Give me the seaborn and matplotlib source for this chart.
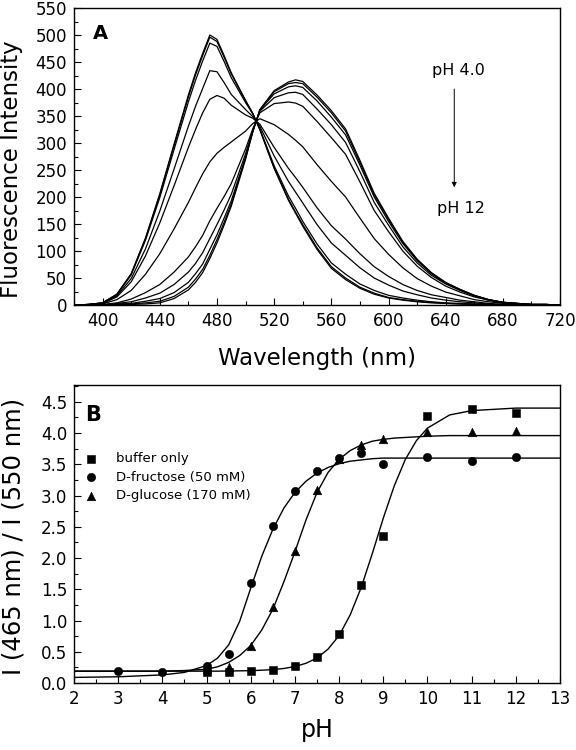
import numpy as np
import pandas as pd
import matplotlib
matplotlib.use("Agg")
import matplotlib.pyplot as plt
import seaborn as sns
from matplotlib.ticker import MultipleLocator

# ---- panel A: fluorescence spectra (pH 4.0 -> pH 12) ----
wavelength = [380, 390, 400, 410, 420, 430, 440, 450, 460, 465, 470, 475, 480, 485, 490,
              500, 505, 510, 520, 530, 535, 540, 550, 560, 570, 580, 590, 600, 610, 620,
              630, 640, 650, 660, 670, 680, 690, 700, 710, 720]

spec_01 = [0, 1, 4, 20, 58, 124, 206, 298, 389, 430, 466, 500, 492, 462, 430,
           379, 355, 325, 253, 194, 170, 146, 103, 68, 47, 31, 20, 13, 9, 6,
           4, 3, 2, 1, 1, 0, 0, 0, 0, 0]
spec_02 = [0, 1, 4, 20, 57, 123, 204, 295, 385, 426, 462, 496, 488, 459, 428,
           378, 355, 325, 254, 196, 172, 149, 106, 71, 50, 33, 22, 14, 10, 7,
           5, 3, 2, 1, 1, 0, 0, 0, 0, 0]
spec_03 = [0, 1, 4, 19, 56, 120, 199, 288, 376, 416, 452, 485, 479, 451, 421,
           375, 354, 326, 258, 202, 179, 155, 113, 78, 57, 39, 27, 18, 13, 9,
           6, 4, 3, 2, 1, 0, 0, 0, 0, 0]
spec_04 = [0, 1, 3, 17, 49, 104, 174, 252, 331, 368, 401, 434, 432, 412, 390,
           362, 349, 331, 276, 229, 209, 189, 149, 115, 92, 69, 50, 37, 26, 19,
           13, 9, 6, 4, 2, 1, 0, 0, 0, 0]
spec_05 = [0, 1, 3, 15, 43, 91, 152, 221, 292, 325, 356, 381, 388, 383, 370,
           352, 346, 335, 292, 253, 236, 218, 180, 147, 122, 95, 71, 53, 38, 27,
           19, 14, 9, 6, 3, 1, 1, 0, 0, 0]
spec_06 = [0, 0, 2, 10, 27, 57, 95, 141, 190, 217, 243, 265, 281, 292, 302,
           322, 336, 345, 334, 316, 305, 293, 260, 229, 200, 161, 123, 94, 69, 49,
           35, 24, 17, 10, 6, 3, 2, 1, 1, 0]
spec_07 = [0, 0, 1, 4, 11, 23, 38, 61, 89, 108, 129, 156, 179, 201, 225,
           289, 326, 356, 373, 376, 374, 368, 340, 310, 279, 228, 175, 136, 100, 72,
           51, 35, 24, 15, 9, 4, 2, 1, 1, 0]
spec_08 = [0, 0, 0, 3, 6, 13, 22, 38, 61, 77, 97, 123, 149, 176, 205,
           280, 323, 359, 384, 393, 394, 390, 363, 334, 301, 247, 190, 148, 108, 78,
           55, 39, 27, 17, 9, 5, 3, 1, 1, 0]
spec_09 = [0, 0, 0, 2, 3, 7, 12, 23, 42, 58, 76, 103, 130, 161, 193,
           274, 321, 361, 391, 404, 406, 403, 378, 348, 315, 259, 200, 155, 114, 82,
           58, 40, 28, 17, 10, 5, 3, 1, 1, 0]
spec_10 = [0, 0, 0, 1, 2, 4, 7, 16, 33, 48, 66, 92, 121, 153, 187,
           272, 321, 361, 395, 410, 412, 410, 385, 356, 322, 264, 204, 159, 116, 84,
           59, 41, 29, 18, 10, 5, 3, 1, 1, 0]
spec_11 = [0, 0, 0, 1, 1, 2, 4, 12, 28, 42, 60, 86, 115, 148, 183,
           270, 320, 362, 397, 413, 417, 414, 389, 360, 326, 268, 207, 161, 118, 85,
           60, 42, 29, 18, 10, 5, 3, 1, 1, 0]
spectra = [spec_01, spec_02, spec_03, spec_04, spec_05, spec_06,
           spec_07, spec_08, spec_09, spec_10, spec_11]

# ---- panel B: I(465)/I(550) vs pH ----
ph_buffer = [5, 5.5, 6, 6.5, 7, 7.5, 8, 8.5, 9, 10, 11, 12]
ratio_buffer = [0.17, 0.17, 0.19, 0.21, 0.27, 0.42, 0.78, 1.57, 2.36, 4.28, 4.38, 4.32]
ph_fructose = [3, 4, 5, 5.5, 6, 6.5, 7, 7.5, 8, 8.5, 9, 10, 11, 12]
ratio_fructose = [0.19, 0.18, 0.27, 0.46, 1.60, 2.52, 3.08, 3.40, 3.60, 3.68, 3.51, 3.61, 3.56, 3.61]
ph_glucose = [5, 5.5, 6, 6.5, 7, 7.5, 8, 8.5, 9, 10, 11, 12]
ratio_glucose = [0.22, 0.26, 0.60, 1.21, 2.11, 3.09, 3.58, 3.81, 3.91, 4.01, 4.01, 4.03]

# fitted curves as drawn in the figure
fit_ph = [2, 3, 4, 4.5, 5, 5.25, 5.5, 5.75, 6, 6.25, 6.5, 6.75, 7, 7.25, 7.5,
          7.75, 8, 8.25, 8.5, 8.75, 9, 9.25, 9.5, 9.75, 10, 10.5, 11, 12, 13]
fit_buffer = [0.19, 0.19, 0.19, 0.19, 0.19, 0.19, 0.193, 0.195, 0.198, 0.205, 0.215, 0.233, 0.264, 0.316, 0.40,
              0.543, 0.76, 1.09, 1.53, 2.07, 2.64, 3.16, 3.58, 3.88, 4.08, 4.29, 4.36, 4.40, 4.40]
fit_fructose = [0.09, 0.10, 0.13, 0.17, 0.28, 0.40, 0.61, 0.99, 1.52, 2.03, 2.46, 2.80, 3.05, 3.23, 3.36,
                3.45, 3.51, 3.55, 3.57, 3.59, 3.60, 3.60, 3.60, 3.60, 3.60, 3.60, 3.60, 3.60, 3.60]
fit_glucose = [0.19, 0.19, 0.19, 0.20, 0.22, 0.26, 0.33, 0.44, 0.60, 0.85, 1.18, 1.62, 2.10, 2.61, 3.05,
               3.37, 3.58, 3.72, 3.81, 3.87, 3.90, 3.92, 3.93, 3.94, 3.95, 3.96, 3.96, 3.96, 3.96]

sns.set_style("ticks")
plt.rcParams["font.family"] = ["DejaVu Sans"]
plt.rcParams["text.color"] = "black"
plt.rcParams["axes.labelcolor"] = "black"

fig = plt.figure(figsize=(5.76, 7.5), dpi=100)
ax1 = fig.add_axes([0.1285, 0.5933, 0.8438, 0.396])
ax2 = fig.add_axes([0.1285, 0.0893, 0.8438, 0.3974])

# panel A
spec_df = pd.DataFrame({
    "wavelength": wavelength * len(spectra),
    "intensity": np.concatenate(spectra),
    "curve": np.repeat(np.arange(len(spectra)), len(wavelength)),
})
sns.lineplot(data=spec_df, x="wavelength", y="intensity", units="curve", estimator=None,
             color="black", lw=0.9, legend=False, ax=ax1)

ax1.set_xlim(380, 720)
ax1.set_ylim(0, 550)
ax1.xaxis.set_major_locator(MultipleLocator(40))
ax1.xaxis.set_minor_locator(MultipleLocator(20))
ax1.yaxis.set_major_locator(MultipleLocator(50))
ax1.yaxis.set_minor_locator(MultipleLocator(25))
ax1.set_xlabel("Wavelength (nm)", fontsize=16.5)
ax1.set_ylabel("Fluorescence Intensity", fontsize=16.5)
ax1.xaxis.set_label_coords(0.5, -0.14)
ax1.yaxis.set_label_coords(-0.105, 0.458)
ax1.text(0.038, 0.896, "A", transform=ax1.transAxes, fontsize=14, fontweight="bold")
ax1.text(649, 426, "pH 4.0", fontsize=11.5, ha="center")
ax1.text(651, 170, "pH 12", fontsize=11.5, ha="center")
ax1.annotate("", xy=(646, 218), xytext=(646, 400),
             arrowprops=dict(arrowstyle="-|>", color="black", lw=0.7,
                             mutation_scale=7, shrinkA=0, shrinkB=0))

# panel B
for fit in (fit_buffer, fit_fructose, fit_glucose):
    sns.lineplot(x=fit_ph, y=fit, color="black", lw=1.0, sort=False, ax=ax2)
sns.scatterplot(x=ph_buffer, y=ratio_buffer, marker="s", s=28, color="black",
                edgecolor="black", linewidth=0.4, label="buffer only", ax=ax2)
sns.scatterplot(x=ph_fructose, y=ratio_fructose, marker="o", s=36, color="black",
                edgecolor="black", linewidth=0.4, label="D-fructose (50 mM)", ax=ax2)
sns.scatterplot(x=ph_glucose, y=ratio_glucose, marker="^", s=38, color="black",
                edgecolor="black", linewidth=0.4, label="D-glucose (170 mM)", ax=ax2)

ax2.set_xlim(2, 13)
ax2.set_ylim(0, 4.77)
ax2.xaxis.set_major_locator(MultipleLocator(1))
ax2.xaxis.set_minor_locator(MultipleLocator(0.5))
ax2.yaxis.set_major_locator(MultipleLocator(0.5))
ax2.yaxis.set_minor_locator(MultipleLocator(0.25))
ax2.set_xlabel("pH", fontsize=17)
ax2.set_ylabel("I (465 nm) / I (550 nm)", fontsize=17.5)
ax2.xaxis.set_label_coords(0.5, -0.117)
ax2.yaxis.set_label_coords(-0.099, 0.493)
ax2.text(0.022, 0.878, "B", transform=ax2.transAxes, fontsize=15, fontweight="bold")
ax2.legend(loc="upper left", bbox_to_anchor=(0.021, 0.775), frameon=False,
           fontsize=9.5, handlelength=1.0, handletextpad=1.4, labelspacing=0.42,
           borderpad=0, borderaxespad=0)

for ax in (ax1, ax2):
    ax.tick_params(which="both", direction="in", top=False, right=False,
                   colors="black", width=0.8)
    ax.tick_params(which="major", length=5, labelsize=12, pad=5)
    ax.tick_params(which="minor", length=3)
    for sp in ax.spines.values():
        sp.set_linewidth(1.0)
        sp.set_color("black")

fig.savefig("out.png", dpi=100)
